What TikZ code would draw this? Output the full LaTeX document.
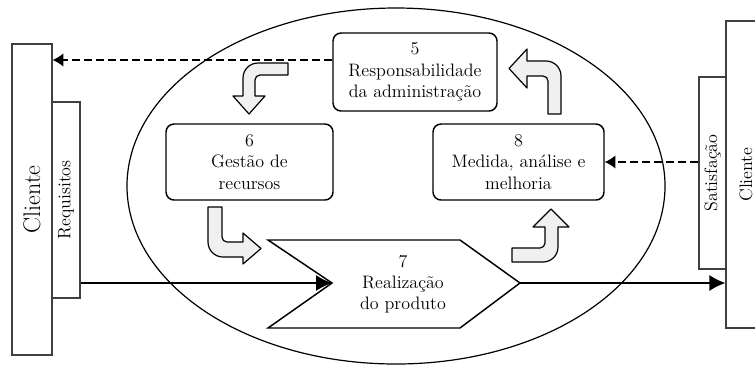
\documentclass[tikz,border=0pt]{standalone}
\usepackage{tikz}
\usetikzlibrary{arrows.meta}
\newcommand{\vtxt}[1]{\rotatebox{90}{#1}}

\begin{document}
\begin{tikzpicture}[x=0.75pt,y=-0.75pt,
    etapa/.style={draw,line width=1.1pt,rounded corners=6pt,fill=white,align=center,inner sep=0pt,font=\fontsize{13.5}{16}\selectfont},
    lado/.style={draw=black!75,line width=0.9pt,fill=white,inner sep=0pt},
    seta/.style={draw,line width=0.9pt,fill=gray!12,line join=round},
    tracej/.style={line width=1pt,dash pattern=on 6pt off 3pt,-{Latex[length=8pt,width=10pt]}},
    solida/.style={line width=1pt,-{Latex[length=12pt,width=12pt]}}]
    \clip (0,0) rectangle (755,369);
    \draw[line width=0.9pt] (396,186) ellipse [x radius=201.75pt,y radius=133.5pt];
    % cliente e requisitos
    \node[lado,minimum width=30pt,minimum height=233.25pt] (cliL) at (32,199.5) {\vtxt{\fontsize{18}{20}\selectfont Cliente}};
    \node[lado,minimum width=21pt,minimum height=147pt] (reqL) at (66,200) {\vtxt{\fontsize{13.5}{16}\selectfont Requisitos}};
    \node[lado,minimum width=30pt,minimum height=230.25pt] (cliR) at (746,174.5) {\vtxt{\fontsize{13.5}{16}\selectfont Cliente}};
    \node[lado,minimum width=20.25pt,minimum height=144pt] (satR) at (712.5,173) {\vtxt{\fontsize{13.5}{16}\selectfont Satisfação}};
    % etapas
    \node[etapa,minimum width=123pt,minimum height=58.5pt] (resp) at (415,72) {5\\Responsabilidade\\da administração};
    \node[etapa,minimum width=125.25pt,minimum height=57pt] (gest) at (249.5,162) {6\\Gestão de\\recursos};
    \node[etapa,minimum width=128.25pt,minimum height=57pt] (med) at (518.5,162) {8\\Medida, análise e\\melhoria};
    \draw[line width=1.1pt,fill=white] (268,240) -- (460,240) -- (520,283) coordinate (tip) -- (460,328) -- (268,328) -- (332,283) coordinate (notch) -- cycle;
    \node[align=center,inner sep=0pt,font=\fontsize{13.5}{16}\selectfont] (real) at (403,284) {7\\Realização\\do produto};
    % setas do ciclo
    \draw[seta] (288,63) -- (258,63) to[out=180,in=90] (243,78) -- (243,96) -- (233,96) -- (249,114) -- (265,96) -- (255,96) -- (255,80) to[out=90,in=180] (260,75) -- (288,75) -- cycle;
    \draw[seta] (208,207) -- (208,242) to[out=-90,in=180] (223,257) -- (243,257) -- (243,264) -- (261,248.5) -- (243,233) -- (243,242) -- (227,242) to[out=180,in=-90] (222,237) -- (222,207) -- cycle;
    \draw[seta] (512,248) -- (540,248) to[out=0,in=-90] (545,243) -- (545,227) -- (533,227) -- (551,209) -- (569,227) -- (558,227) -- (558,247) to[out=-90,in=0] (543,262) -- (512,262) -- cycle;
    \draw[seta] (548,114) -- (548,81) to[out=90,in=0] (543,76) -- (527,76) -- (527,88) -- (509,68.5) -- (527,49) -- (527,61) -- (546,61) to[out=0,in=90] (561,76) -- (561,114) -- cycle;
    % ligacoes
    \path (resp.west) ++(0,-12) coordinate (d5);
    \path[tracej] (d5) edge (d5 -| cliL.east);
    \path[tracej] (satR.west |- med.east) edge (med.east);
    \path[solida] (reqL.east |- notch) edge (notch);
    \path[solida] (tip) edge (tip -| cliR.west);
  \end{tikzpicture}
\end{document}
